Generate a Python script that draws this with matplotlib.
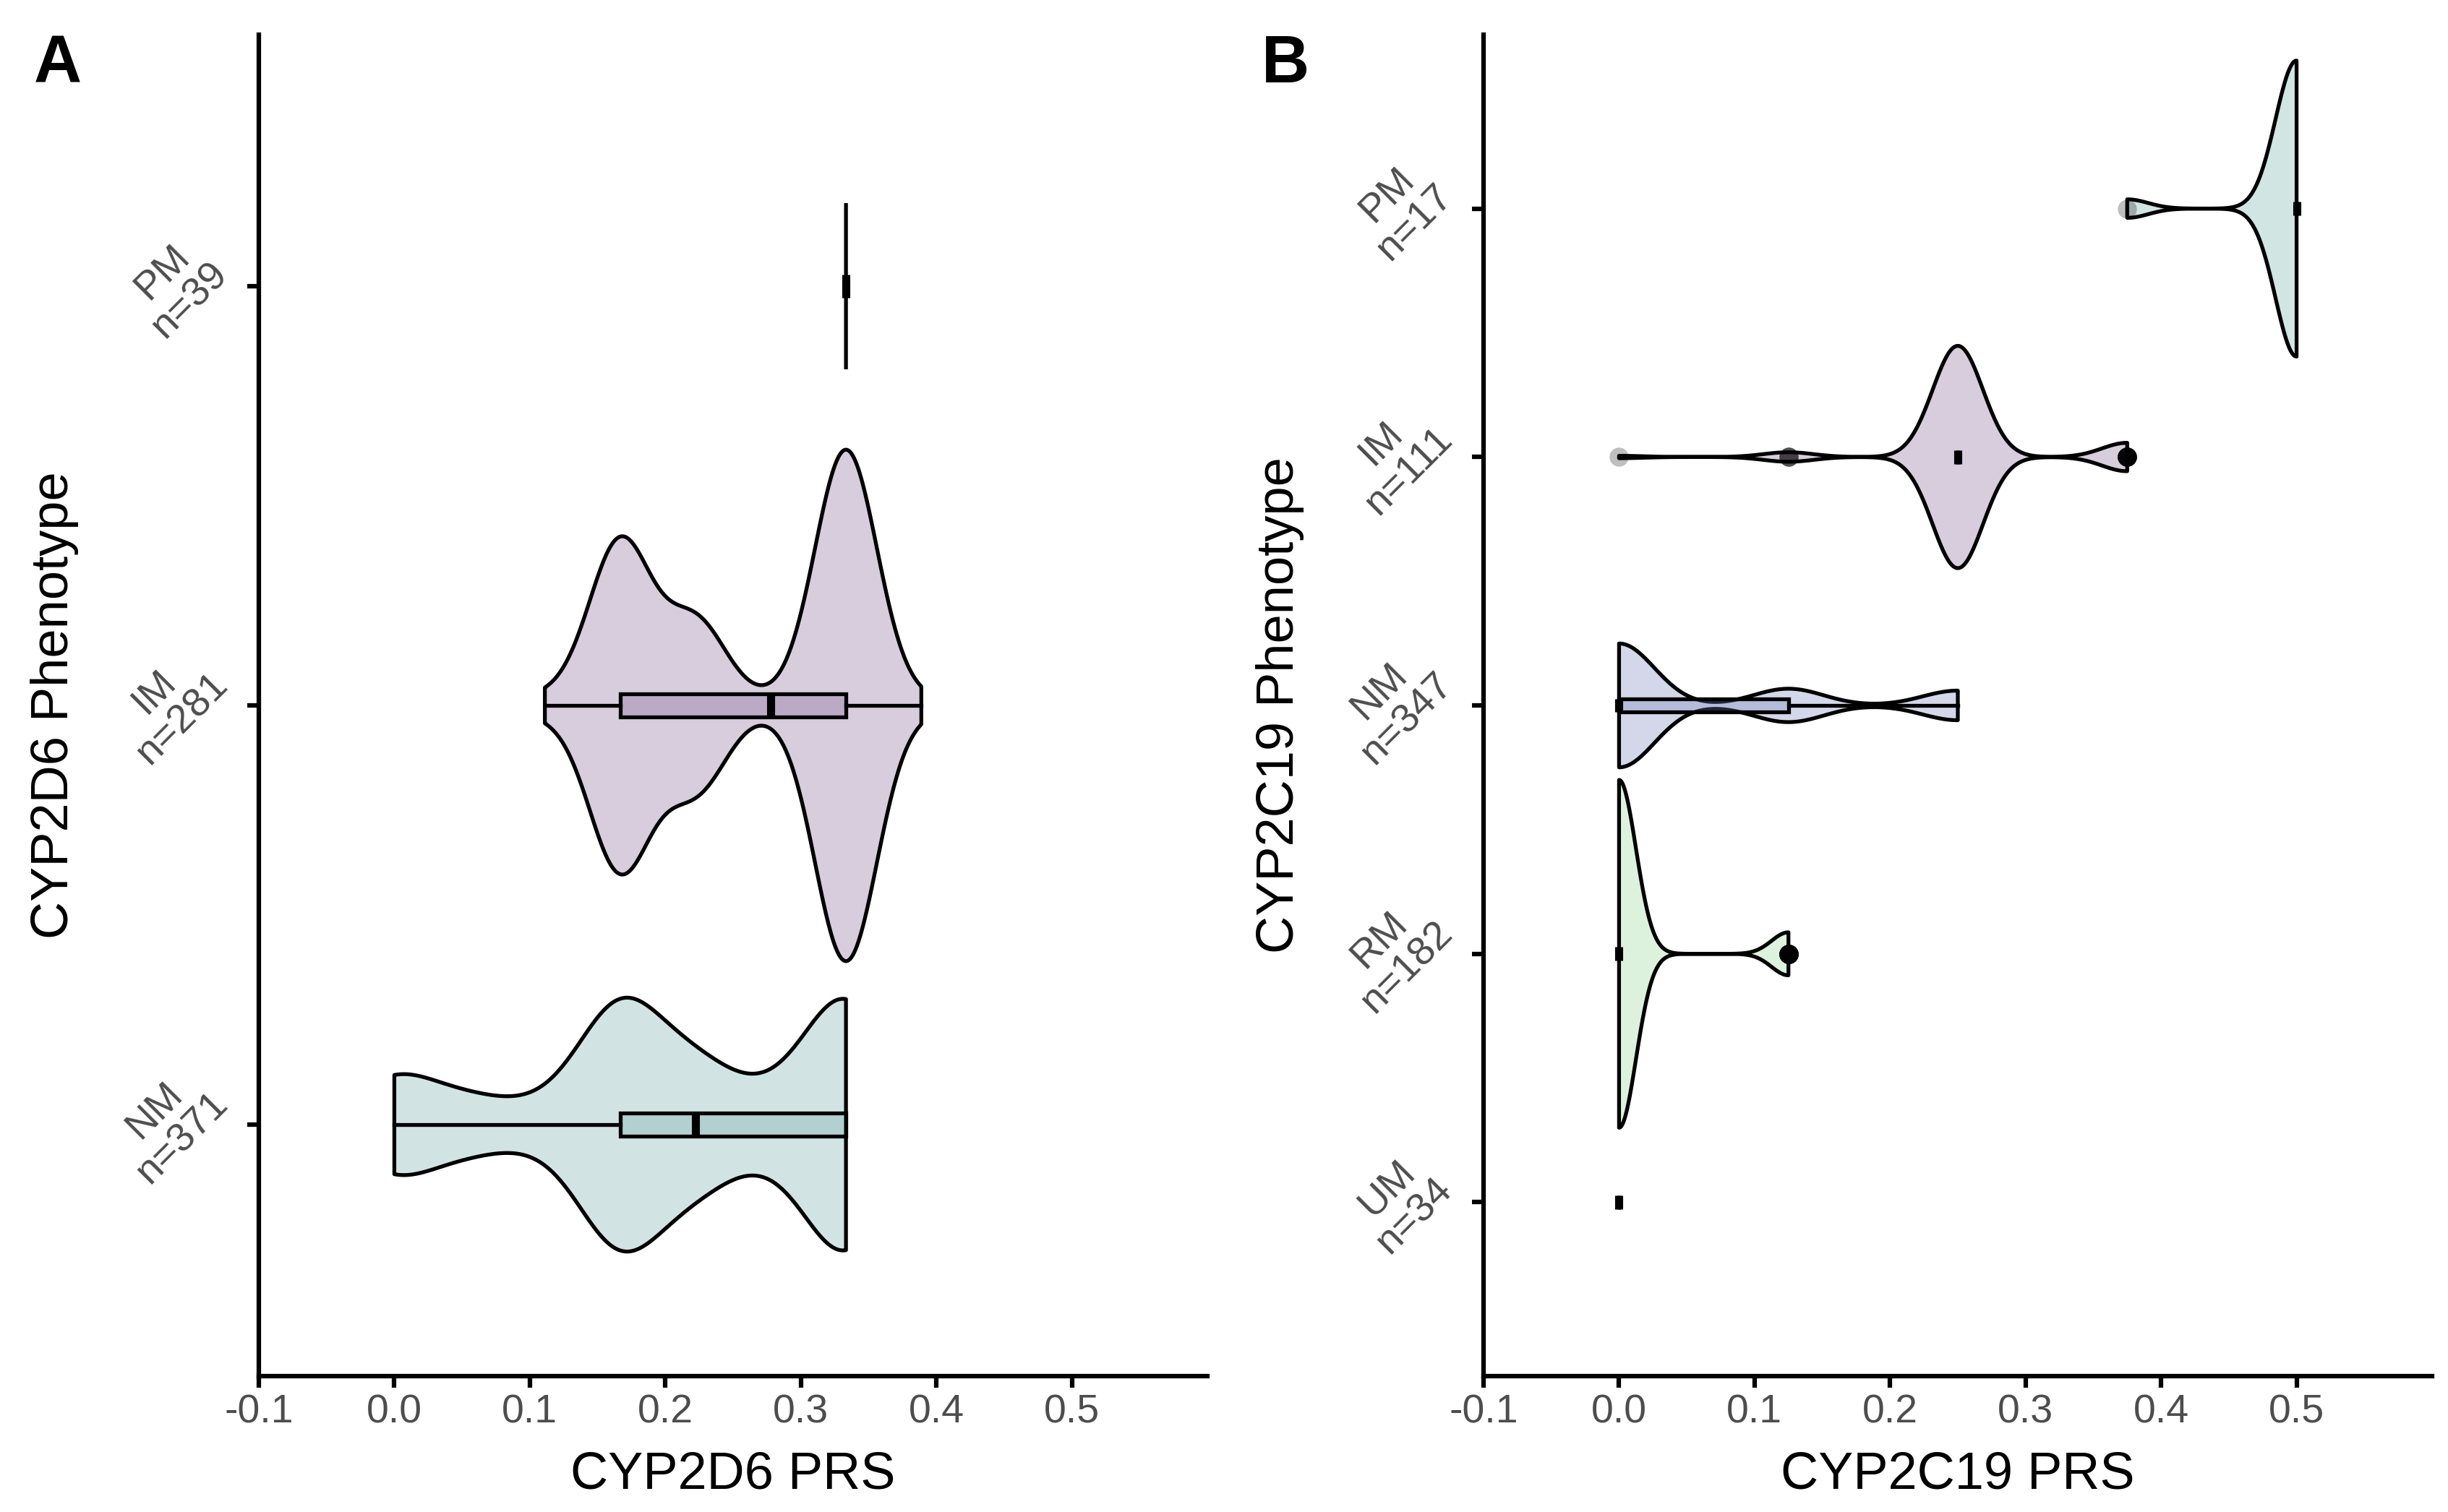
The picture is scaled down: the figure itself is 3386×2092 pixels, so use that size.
import numpy as np
import matplotlib
matplotlib.use("Agg")
import matplotlib.pyplot as plt

# ---------------- data ----------------
CYP2D6_PHENOTYPES = ["NM", "IM", "PM"]
CYP2D6_PRS_LEVELS = [0.0, 0.0556, 0.1111, 0.1667, 0.2222, 0.2778, 0.3333, 0.3889]
CYP2D6_NM_COUNTS = [43, 21, 14, 107, 50, 21, 115, 0]
CYP2D6_IM_COUNTS = [0, 0, 5, 88, 45, 3, 137, 3]
CYP2D6_PM_COUNTS = [0, 0, 0, 0, 0, 0, 39, 0]

CYP2C19_PHENOTYPES = ["UM", "RM", "NM", "IM", "PM"]
CYP2C19_PRS_LEVELS = [0.0, 0.125, 0.25, 0.375, 0.5]
CYP2C19_UM_COUNTS = [34, 0, 0, 0, 0]
CYP2C19_RM_COUNTS = [162, 20, 0, 0, 0]
CYP2C19_NM_COUNTS = [230, 62, 55, 0, 0]
CYP2C19_IM_COUNTS = [1, 4, 94, 12, 0]
CYP2C19_PM_COUNTS = [0, 0, 0, 1, 16]

X_TICKS = [-0.1, 0.0, 0.1, 0.2, 0.3, 0.4, 0.5]
X_TICK_LABELS = ["-0.1", "0.0", "0.1", "0.2", "0.3", "0.4", "0.5"]

# ---------------- style ----------------
plt.rcParams["font.family"] = ["Liberation Sans", "DejaVu Sans"]
plt.rcParams["axes.unicode_minus"] = False

W, H, DPI = 3387, 2092, 100
TICK_FS = 40
TITLE_FS = 52
LETTER_FS = 66
TICK_GREY = "#4D4D4D"
ALPHA = 0.3
LW = 3.8

COLORS_A = ["#6ca5a5", "#7d5c91", "#6ca5a5"]
COLORS_B = ["#6ca5a5", "#91d791", "#707db9", "#7d5c91", "#68aaa5"]


def expand(levels, counts):
    return np.repeat(np.asarray(levels, float), counts)


def bw_nrd0(x):
    hi = np.std(x, ddof=1)
    if hi < 1e-12:
        hi = 0.0
    q75, q25 = np.percentile(x, [75, 25])
    iqr = q75 - q25
    if iqr < 1e-12:
        iqr = 0.0
    lo = min(hi, iqr / 1.34)
    if not lo:
        lo = hi or abs(x[0]) or 1.0
    return 0.9 * lo * len(x) ** -0.2


def violin_profile(x):
    bw = bw_nrd0(x)
    grid = np.linspace(x.min(), x.max(), 512)
    z = (grid[:, None] - x[None, :]) / bw
    d = np.exp(-0.5 * z ** 2).sum(axis=1) / (len(x) * bw * np.sqrt(2 * np.pi))
    return grid, d


def draw_panel(ax, phenotypes, levels, counts_list, colors, half_width, box_width, ylim):
    data = [expand(levels, c) for c in counts_list]
    profiles = [violin_profile(x) for x in data]
    dmax = max(d.max() for _, d in profiles)
    positions = list(range(1, len(data) + 1))
    for pos, (g, d), col in zip(positions, profiles, colors):
        hw = half_width * d / dmax
        xs = np.concatenate([g, g[::-1]])
        ys = np.concatenate([pos + hw, (pos - hw)[::-1]])
        ax.fill(xs, ys, facecolor=(matplotlib.colors.to_rgb(col) + (ALPHA,)),
                edgecolor="black", linewidth=LW, zorder=2, joinstyle="round")
    kw = dict(positions=positions, widths=box_width, patch_artist=True,
              showcaps=False, whis=1.5, manage_ticks=False,
              boxprops=dict(edgecolor="black", linewidth=LW),
              whiskerprops=dict(color="black", linewidth=LW),
              medianprops=dict(color="black", linewidth=8, solid_capstyle="butt"),
              flierprops=dict(marker="o", markerfacecolor="black",
                              markeredgecolor="none", markersize=19, alpha=0.25))
    try:
        bp = ax.boxplot(data, orientation="horizontal", **kw)
    except TypeError:
        bp = ax.boxplot(data, vert=False, **kw)
    for patch, col in zip(bp["boxes"], colors):
        patch.set_facecolor(matplotlib.colors.to_rgb(col) + (ALPHA,))
        patch.set_zorder(3)
    for key in ("whiskers", "medians", "fliers"):
        for art in bp[key]:
            art.set_zorder(4)

    ax.set_xlim(-0.1, 0.6)
    ax.set_ylim(*ylim)
    ax.set_xticks(X_TICKS)
    ax.set_xticklabels(X_TICK_LABELS)
    labels = [f"{p}\nn={int(np.sum(c))}" for p, c in zip(phenotypes, counts_list)]
    ax.set_yticks(positions)
    ax.set_yticklabels(labels, rotation=45, ha="right", va="center",
                       multialignment="center", linespacing=1.05)
    for s in ("top", "right"):
        ax.spines[s].set_visible(False)
    for s in ("left", "bottom"):
        ax.spines[s].set_linewidth(4.5)
        ax.spines[s].set_color("black")
    ax.tick_params(axis="both", length=11.5, width=4.5, color="black",
                   labelsize=TICK_FS, labelcolor=TICK_GREY)
    ax.tick_params(axis="x", pad=6)
    ax.tick_params(axis="y", pad=12)


fig = plt.figure(figsize=(W / DPI, H / DPI), dpi=DPI)
fig.patch.set_facecolor("white")

ax_bottom = (H - 1904) / H
ax_height = (1904 - 48) / H
axA = fig.add_axes([358 / W, ax_bottom, (1670 - 358) / W, ax_height])
axB = fig.add_axes([2052 / W, ax_bottom, (3364 - 2052) / W, ax_height])

draw_panel(axA, CYP2D6_PHENOTYPES, CYP2D6_PRS_LEVELS,
           [CYP2D6_NM_COUNTS, CYP2D6_IM_COUNTS, CYP2D6_PM_COUNTS],
           COLORS_A, 0.61, 0.055, (0.4, 3.6))
draw_panel(axB, CYP2C19_PHENOTYPES, CYP2C19_PRS_LEVELS,
           [CYP2C19_UM_COUNTS, CYP2C19_RM_COUNTS, CYP2C19_NM_COUNTS,
            CYP2C19_IM_COUNTS, CYP2C19_PM_COUNTS],
           COLORS_B, 0.70, 0.055, (0.3, 5.7))

yc = 1 - 976 / H
fig.text(76 / W, yc, "CYP2D6 Phenotype", rotation=90, ha="center", va="center",
         fontsize=TITLE_FS, color="black")
fig.text(1771 / W, yc, "CYP2C19 Phenotype", rotation=90, ha="center", va="center",
         fontsize=TITLE_FS, color="black")
fig.text((358 + 1670) / 2 / W, 1 - 2060 / H, "CYP2D6 PRS", ha="center", va="baseline",
         fontsize=TITLE_FS, color="black")
fig.text((2052 + 3364) / 2 / W, 1 - 2060 / H, "CYP2C19 PRS", ha="center", va="baseline",
         fontsize=TITLE_FS, color="black")
fig.text(47 / W, 1 - 114 / H, "A", ha="left", va="baseline", fontsize=LETTER_FS,
         fontweight="bold")
fig.text(1745 / W, 1 - 114 / H, "B", ha="left", va="baseline", fontsize=LETTER_FS,
         fontweight="bold")

fig.savefig("out.png", dpi=DPI, facecolor="white")
